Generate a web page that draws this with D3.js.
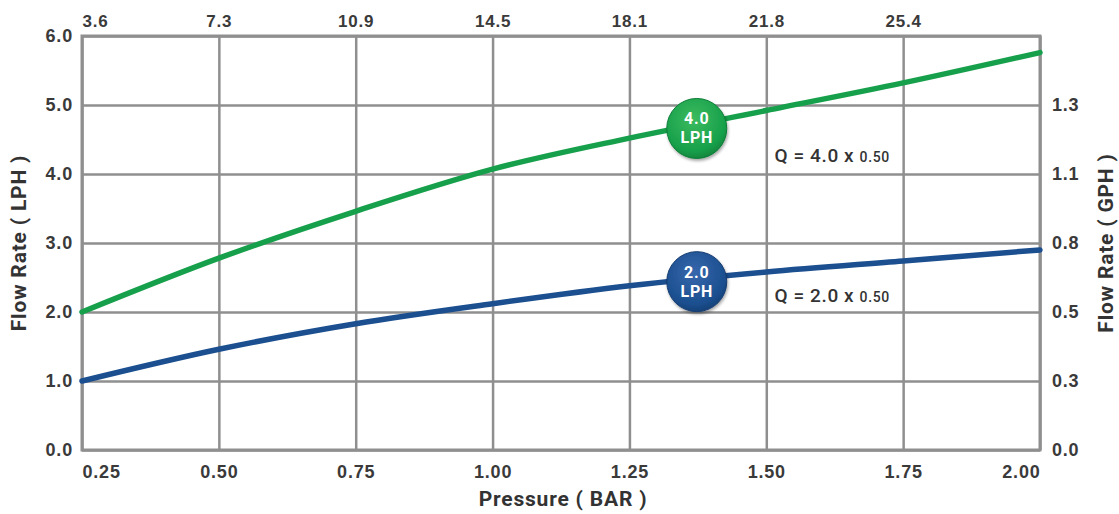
<!doctype html>
<html lang="en">
<head>
  <meta charset="utf-8">
  <title>Flow Rate vs Pressure</title>
  <style>
  body { margin: 0; background: #fff; }
  svg { display: block; font-family: Roboto, "DejaVu Sans", sans-serif; }
  .grid line, .grid path { stroke: #8f8f8f; stroke-width: 2.5; }
  .lbl text { fill: #3a3a3a; font-weight: 700; letter-spacing: 0.8px; }
  .title { fill: #333; font-weight: 700; font-size: 21px; letter-spacing: 0.8px; }
  .eq { fill: #333; font-weight: 500; letter-spacing: 0.6px; }
  </style>
</head>
<body>
  <div id="chart"></div>
  <script src="https://cdnjs.cloudflare.com/ajax/libs/d3/7.8.5/d3.min.js"></script>
  <script>
    // values
    var pressure = [0.25, 0.50, 0.75, 1.00, 1.25, 1.50, 1.75, 2.00];
    var flow4 = [2.00, 2.78, 3.46, 4.07, 4.52, 4.92, 5.32, 5.76];
    var flow2 = [1.00, 1.46, 1.83, 2.12, 2.38, 2.58, 2.74, 2.90];
    var lphTicks = [0, 1, 2, 3, 4, 5, 6];
    var psiLabels = ["3.6", "7.3", "10.9", "14.5", "18.1", "21.8", "25.4", ""];
    var gphLabels = ["0.0", "0.3", "0.5", "0.8", "1.1", "1.3", ""];
    var series = [
      { name: "4.0", values: flow4, color: "#17a04b", light: "#3dbb5e", dark: "#0f7d38", badgeP: 1.373, badgeQ: 4.66, eqQ: 4.17 },
      { name: "2.0", values: flow2, color: "#1b4f8f", light: "#3767ad", dark: "#143c70", badgeP: 1.373, badgeQ: 2.44, eqQ: 2.14 }
    ];
    var eqP = 1.515;

    (function() {
      var width = 1119, height = 514;
      var m = { top: 36, right: 79, bottom: 64, left: 82 };
      var w = width - m.left - m.right, h = height - m.top - m.bottom;

      var svg = d3.select("#chart").append("svg")
          .attr("width", width).attr("height", height);

      var defs = svg.append("defs");
      series.forEach(function(s, i) {
        var g = defs.append("radialGradient").attr("id", "bg" + i)
            .attr("cx", "45%").attr("cy", "35%").attr("r", "70%");
        g.append("stop").attr("offset", "0%").attr("stop-color", s.light);
        g.append("stop").attr("offset", "75%").attr("stop-color", s.color);
        g.append("stop").attr("offset", "100%").attr("stop-color", s.dark);
      });
      var sh = defs.append("filter").attr("id", "shadow")
          .attr("x", "-30%").attr("y", "-30%").attr("width", "160%").attr("height", "160%");
      sh.append("feDropShadow").attr("dx", 1).attr("dy", 2).attr("stdDeviation", 1.5)
          .attr("flood-color", "#000").attr("flood-opacity", 0.35);

      var x = d3.scaleLinear().domain([0.25, 2.0]).range([0, w]);
      var y = d3.scaleLinear().domain([0, 6]).range([h, 0]);

      var g = svg.append("g").attr("transform", "translate(" + m.left + "," + m.top + ")");

      // grid
      g.append("g").attr("class", "grid")
          .attr("transform", "translate(0," + h + ")")
          .call(d3.axisBottom(x).tickValues(pressure).tickSize(-h).tickFormat(""));
      g.append("g").attr("class", "grid")
          .call(d3.axisLeft(y).tickValues(lphTicks).tickSize(-w).tickFormat(""));
      g.append("rect").attr("width", w).attr("height", h)
          .attr("fill", "none").attr("stroke", "#8f8f8f").attr("stroke-width", 3);

      // tick labels
      var bottom = g.append("g").attr("class", "lbl")
          .attr("transform", "translate(0," + h + ")")
          .call(d3.axisBottom(x).tickValues(pressure).tickSize(0).tickPadding(15)
            .tickFormat(d3.format(".2f")));
      bottom.selectAll("text").style("font-size", "18px")
          .attr("text-anchor", function(d, i) { return i === 0 ? "start" : (i === pressure.length - 1 ? "end" : "middle"); });

      var top = g.append("g").attr("class", "lbl")
          .call(d3.axisTop(x).tickValues(pressure).tickSize(0).tickPadding(9)
            .tickFormat(function(d, i) { return psiLabels[i]; }));
      top.selectAll("text").style("font-size", "17px")
          .attr("text-anchor", function(d, i) { return i === 0 ? "start" : "middle"; });

      var left = g.append("g").attr("class", "lbl")
          .call(d3.axisLeft(y).tickValues(lphTicks).tickSize(0).tickPadding(9)
            .tickFormat(d3.format(".1f")));
      left.selectAll("text").style("font-size", "18px");

      var right = g.append("g").attr("class", "lbl")
          .attr("transform", "translate(" + w + ",0)")
          .call(d3.axisRight(y).tickValues(lphTicks).tickSize(0).tickPadding(12)
            .tickFormat(function(d, i) { return gphLabels[i]; }));
      right.selectAll("text").style("font-size", "18px");

      g.selectAll(".lbl .domain").remove();
      g.selectAll(".grid .domain").remove();

      // axis titles
      svg.append("text").attr("class", "title")
          .attr("transform", "translate(26," + (m.top + h / 2) + ") rotate(-90)")
          .attr("text-anchor", "middle").text("Flow Rate ( LPH )");
      svg.append("text").attr("class", "title")
          .attr("transform", "translate(1113," + (m.top + h / 2) + ") rotate(-90)")
          .attr("text-anchor", "middle").text("Flow Rate ( GPH )");
      svg.append("text").attr("class", "title")
          .attr("x", m.left + w / 2 + 2).attr("y", 506)
          .attr("text-anchor", "middle").text("Pressure ( BAR )");

      // curves
      var line = d3.line()
          .x(function(d, i) { return x(pressure[i]); })
          .y(function(d) { return y(d); })
          .curve(d3.curveMonotoneX);

      series.forEach(function(s, i) {
        g.append("path").datum(s.values)
            .attr("d", line)
            .attr("fill", "none")
            .attr("stroke", s.color)
            .attr("stroke-width", 5.5)
            .attr("stroke-linecap", "round");

        var b = g.append("g")
            .attr("transform", "translate(" + x(s.badgeP) + "," + y(s.badgeQ) + ")");
        b.append("circle").attr("r", 30)
            .attr("fill", "url(#bg" + i + ")")
            .attr("stroke", s.dark).attr("stroke-width", 1)
            .attr("filter", "url(#shadow)");
        b.append("text").attr("y", -4).attr("text-anchor", "middle")
            .attr("fill", "#fff").attr("font-weight", 700).attr("font-size", "16px")
            .attr("letter-spacing", "0.8px")
            .text(s.name);
        b.append("text").attr("y", 15).attr("text-anchor", "middle")
            .attr("fill", "#fff").attr("font-weight", 700).attr("font-size", "16px")
            .attr("letter-spacing", "0.8px")
            .text("LPH");

        var eq = g.append("text").attr("class", "eq")
            .attr("x", x(eqP)).attr("y", y(s.eqQ));
        eq.append("tspan").attr("font-size", "19px").text("Q = " + s.name + " x ");
        eq.append("tspan").attr("font-size", "14px").text("0.50");
      });
    })();
  </script>
</body>
</html>
